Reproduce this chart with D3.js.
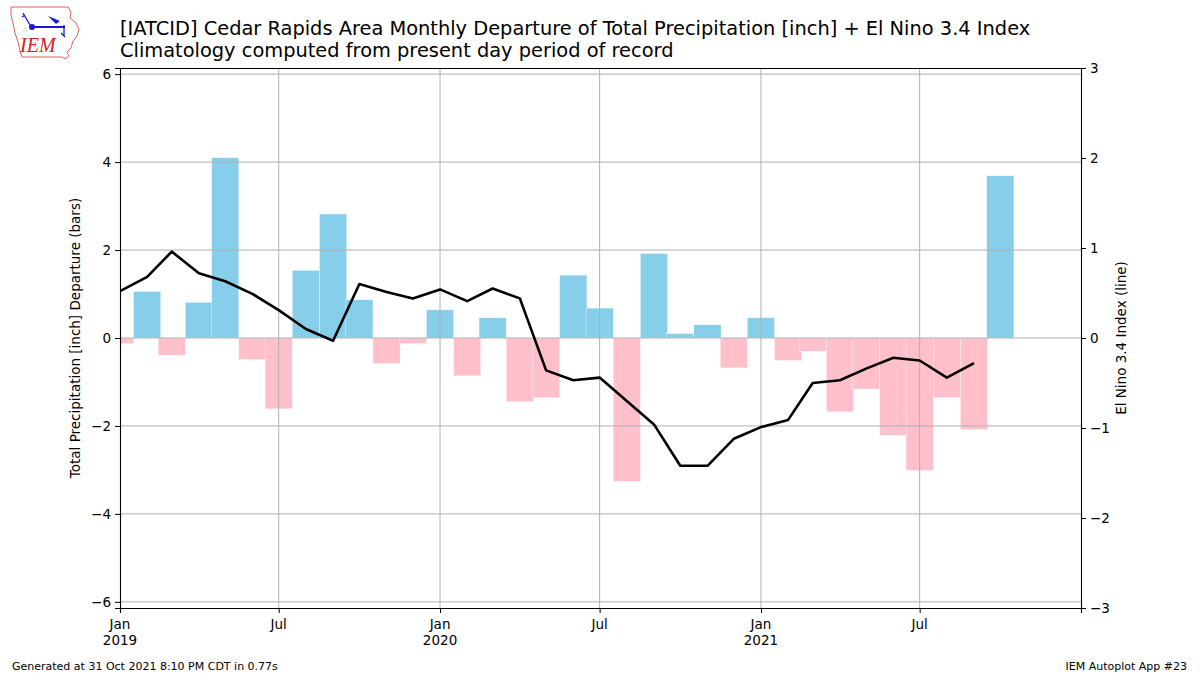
<!DOCTYPE html>
<html lang="en">
<head>
    <meta charset="UTF-8">
    <title>Cedar Rapids Precipitation Departure + El Nino</title>
    <style>
      body {
          margin: 0;
          padding: 0;
          background-color: #fff;
          font-family: 'DejaVu Sans', sans-serif;
      }
      svg text {
          font-family: 'DejaVu Sans', sans-serif;
      }
    </style>
</head>
<body>
    <div id="chart"></div>
    <script src="https://cdn.jsdelivr.net/npm/d3@7"></script>
    <script>
        // monthly values, Jan 2019 .. Oct 2021
        const months = [
            "2019-01","2019-02","2019-03","2019-04","2019-05","2019-06",
            "2019-07","2019-08","2019-09","2019-10","2019-11","2019-12",
            "2020-01","2020-02","2020-03","2020-04","2020-05","2020-06",
            "2020-07","2020-08","2020-09","2020-10","2020-11","2020-12",
            "2021-01","2021-02","2021-03","2021-04","2021-05","2021-06",
            "2021-07","2021-08","2021-09","2021-10"
        ];
        const precipDeparture = [
            -0.13, 1.06, -0.39, 0.81, 4.10, -0.49,
            -1.61, 1.54, 2.82, 0.87, -0.58, -0.13,
            0.64, -0.86, 0.46, -1.45, -1.36, 1.43,
            0.68, -3.26, 1.92, 0.10, 0.30, -0.68,
            0.46, -0.51, -0.30, -1.68, -1.16, -2.21,
            -3.01, -1.36, -2.08, 3.69
        ];
        // El Nino 3.4 index stops at Sep 2021
        const ninoIndex = [
            0.52, 0.68, 0.96, 0.72, 0.63, 0.49,
            0.31, 0.10, -0.03, 0.60, 0.51, 0.44,
            0.54, 0.41, 0.55, 0.44, -0.36, -0.47,
            -0.44, -0.70, -0.96, -1.42, -1.42, -1.12,
            -0.99, -0.91, -0.50, -0.47, -0.34, -0.22,
            -0.25, -0.44, -0.28
        ];
        const xTickDates = ["2019-01","2019-07","2020-01","2020-07","2021-01","2021-07"];
        const xTickLabels = [["Jan","2019"],["Jul"],["Jan","2020"],["Jul"],["Jan","2021"],["Jul"]];
        const leftTicks = [-6, -4, -2, 0, 2, 4, 6];
        const rightTicks = [-3, -2, -1, 0, 1, 2, 3];

        const title1 = "[IATCID] Cedar Rapids Area Monthly Departure of Total Precipitation [inch] + El Nino 3.4 Index";
        const title2 = "Climatology computed from present day period of record";

        const W = 1200, H = 675;
        const margin = {left: 120, right: 119, top: 68, bottom: 67};
        const parse = d3.timeParse("%Y-%m");

        const svg = d3.select("#chart").append("svg")
            .attr("width", W)
            .attr("height", H);

        const x = d3.scaleTime()
            .domain([parse("2019-01"), parse("2022-01")])
            .range([margin.left, W - margin.right]);
        const yL = d3.scaleLinear()
            .domain([-6.14, 6.14])
            .range([H - margin.bottom, margin.top]);
        const yR = d3.scaleLinear()
            .domain([-3, 3])
            .range([H - margin.bottom, margin.top]);

        svg.append("clipPath").attr("id", "plotclip")
            .append("rect")
            .attr("x", margin.left).attr("y", margin.top)
            .attr("width", W - margin.left - margin.right)
            .attr("height", H - margin.top - margin.bottom);

        const plot = svg.append("g").attr("clip-path", "url(#plotclip)");

        // bars, centred on the first of each month
        const barData = months.map((m, i) => ({date: parse(m), v: precipDeparture[i]}));
        const halfWidth = 15.5 * 24 * 3600 * 1000;
        plot.append("g")
            .selectAll("rect")
            .data(barData)
            .join("rect")
            .attr("x", d => x(new Date(+d.date - halfWidth)))
            .attr("width", d => x(new Date(+d.date + halfWidth)) - x(new Date(+d.date - halfWidth)))
            .attr("y", d => yL(Math.max(0, d.v)))
            .attr("height", d => Math.abs(yL(d.v) - yL(0)))
            .attr("fill", d => d.v >= 0 ? "#87ceeb" : "#ffc0cb")
            .attr("stroke", "#f4fbfd")
            .attr("stroke-width", 0.4);

        // grid goes over the bars, under the line
        const grid = plot.append("g").attr("stroke", "#b0b0b0").attr("stroke-width", 1);
        grid.selectAll("line.h")
            .data(leftTicks)
            .join("line")
            .attr("class", "h")
            .attr("x1", margin.left).attr("x2", W - margin.right)
            .attr("y1", d => yL(d)).attr("y2", d => yL(d));
        grid.selectAll("line.v")
            .data(xTickDates)
            .join("line")
            .attr("class", "v")
            .attr("y1", margin.top).attr("y2", H - margin.bottom)
            .attr("x1", d => x(parse(d))).attr("x2", d => x(parse(d)));

        const lineData = ninoIndex.map((v, i) => ({date: parse(months[i]), v: v}));
        plot.append("path")
            .datum(lineData)
            .attr("fill", "none")
            .attr("stroke", "#000")
            .attr("stroke-width", 2.6)
            .attr("stroke-linejoin", "round")
            .attr("d", d3.line().x(d => x(d.date)).y(d => yR(d.v)));

        // axes
        const tickFont = "13.5px";
        const axisL = svg.append("g")
            .attr("transform", `translate(${margin.left},0)`)
            .call(d3.axisLeft(yL).tickValues(leftTicks).tickSize(5).tickPadding(4)
                .tickFormat(d => d3.format("d")(d).replace("-", "\u2212")));
        const axisR = svg.append("g")
            .attr("transform", `translate(${W - margin.right},0)`)
            .call(d3.axisRight(yR).tickValues(rightTicks).tickSize(5).tickPadding(4)
                .tickFormat(d => d3.format("d")(d).replace("-", "\u2212")));
        const axisB = svg.append("g")
            .attr("transform", `translate(0,${H - margin.bottom})`)
            .call(d3.axisBottom(x).tickValues(xTickDates.map(parse)).tickSize(5).tickFormat(""));
        const axisT = svg.append("g")
            .attr("transform", `translate(0,${margin.top})`)
            .call(d3.axisTop(x).tickSize(0).tickFormat(""));

        [axisL, axisR, axisB, axisT].forEach(a => {
            a.select(".domain").attr("stroke", "#000").attr("stroke-width", 1.1);
            a.selectAll(".tick line").attr("stroke", "#000");
            a.selectAll(".tick text").attr("font-size", tickFont).attr("fill", "#000")
                .attr("font-family", "DejaVu Sans");
        });

        // two-line date labels under the ticks
        const xl = svg.append("g").attr("font-size", tickFont).attr("text-anchor", "middle");
        xTickDates.forEach((d, i) => {
            const t = xl.append("text")
                .attr("x", x(parse(d)))
                .attr("y", H - margin.bottom + 21);
            xTickLabels[i].forEach((s, j) => {
                t.append("tspan").attr("x", x(parse(d))).attr("dy", j === 0 ? 0 : 16).text(s);
            });
        });

        // axis titles
        svg.append("text")
            .attr("transform", `translate(80,${(margin.top + H - margin.bottom) / 2}) rotate(-90)`)
            .attr("text-anchor", "middle")
            .attr("font-size", "13.5px")
            .text("Total Precipitation [inch] Departure (bars)");
        svg.append("text")
            .attr("transform", `translate(1126,${(margin.top + H - margin.bottom) / 2}) rotate(-90)`)
            .attr("text-anchor", "middle")
            .attr("font-size", "13.5px")
            .text("El Nino 3.4 Index (line)");

        // titles
        svg.append("text").attr("x", 120).attr("y", 35).attr("font-size", "19.4px").text(title1);
        svg.append("text").attr("x", 120).attr("y", 57).attr("font-size", "19.4px").text(title2);

        // footer
        svg.append("text").attr("x", 12).attr("y", 670).attr("font-size", "11px")
            .text("Generated at 31 Oct 2021 8:10 PM CDT in 0.77s");
        svg.append("text").attr("x", 1187).attr("y", 670).attr("font-size", "11px")
            .attr("text-anchor", "end")
            .text("IEM Autoplot App #23");

        // rough IEM logo
        const logo = svg.append("g").attr("transform", "translate(8,5)");
        logo.append("path")
            .attr("d", "M3,2 L60,2 L63,7 L62,13 L68,18 L71,24 L69,31 L65,36 L63,43 L59,47 L61,51 L57,54 L54,52 L14,52 L12,46 L10,37 L7,28 L5,18 L3,10 Z")
            .attr("fill", "#fff")
            .attr("stroke", "#e06060")
            .attr("stroke-width", 1);
        logo.append("line").attr("x1", 23).attr("y1", 22).attr("x2", 57).attr("y2", 22)
            .attr("stroke", "#1a1acc").attr("stroke-width", 2);
        logo.append("circle").attr("cx", 24).attr("cy", 22).attr("r", 3).attr("fill", "#1a1acc");
        logo.append("path").attr("d", "M15,8 L22,20 M14,12 L17,10").attr("stroke", "#1a1acc").attr("stroke-width", 1.3).attr("fill", "none");
        logo.append("path").attr("d", "M40,11 L52,16 L48,19 Z").attr("fill", "#1a1acc");
        logo.append("path").attr("d", "M56,20 L56,31 M53,28 L57,32").attr("stroke", "#1a1acc").attr("stroke-width", 1.3).attr("fill", "none");
        logo.append("text").attr("x", 15).attr("y", 27).attr("font-size", "7px").attr("fill", "#1a1acc").text("\u2234");
        logo.append("text")
            .attr("x", 12).attr("y", 47)
            .attr("font-style", "italic")
            .attr("font-size", "20px")
            .attr("fill", "#d42020")
            .style("font-family", "'Liberation Serif', serif")
            .text("IEM");
    </script>
</body>
</html>
